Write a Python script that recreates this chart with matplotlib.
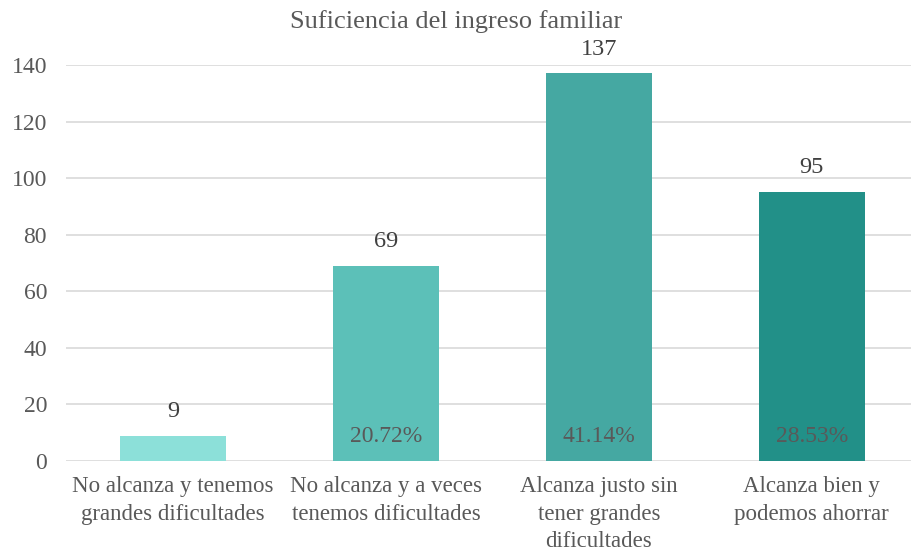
import matplotlib
matplotlib.use("Agg")
from matplotlib import pyplot as plt
import numpy as np

# data
categorias = ["No alcanza y tenemos\ngrandes dificultades",
              "No alcanza y a veces\ntenemos dificultades",
              "Alcanza justo sin\ntener grandes\ndificultades",
              "Alcanza bien y\npodemos ahorrar"]
valores = [9, 69, 137, 95]
porcentajes = ["", "20.72%", "41.14%", "28.53%"]
colores = ["#8CE0D9", "#5CC0B8", "#45A8A2", "#229088"]
yticks = [0, 20, 40, 60, 80, 100, 120, 140]

plt.rcParams['font.family'] = ['Liberation Serif', 'DejaVu Serif']
gris = "#595959"

fig = plt.figure(figsize=(9.12, 5.55), dpi=100)
ax = fig.add_axes([0.0729, 0.1694, 0.934, 0.7135])

x = np.arange(len(categorias))
bars = ax.bar(x, valores, width=0.5, color=colores, zorder=3)

ax.set_xlim(-0.5, len(categorias) - 0.5)
ax.set_ylim(0, 140)
ax.set_yticks(yticks)
ax.set_xticks(x)
ax.set_xticklabels(categorias, fontsize=16.5, color=gris, linespacing=1.4)
ax.tick_params(axis='y', length=0, pad=14, labelsize=17, labelcolor=gris)
ax.tick_params(axis='x', length=0, pad=11)
ax.grid(axis='y', color="#D9D9D9", linewidth=1.2, zorder=0)
for s in ax.spines.values():
    s.set_visible(False)

for xi, v, p in zip(x, valores, porcentajes):
    ax.annotate(str(v), (xi, v), xytext=(0, 10), textcoords='offset points',
                ha='center', va='bottom', fontsize=17.5, color="#404040")
    if p:
        ax.annotate(p, (xi, 0), xytext=(0, 10), textcoords='offset points',
                    ha='center', va='bottom', fontsize=17, color=gris)

fig.text(0.5, 0.962, "Suficiencia del ingreso familiar", ha='center', va='center',
         fontsize=19, color=gris)

fig.savefig("out.png", dpi=100)
